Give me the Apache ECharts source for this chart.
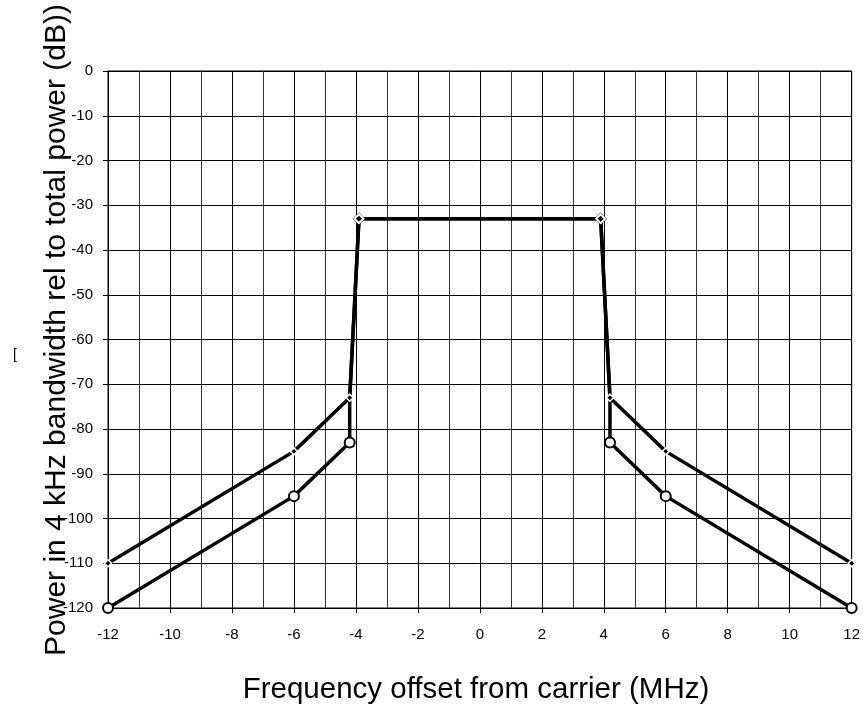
<!DOCTYPE html>
<html>
<head>
<meta charset="utf-8">
<script src="https://cdn.jsdelivr.net/npm/echarts@6/dist/echarts.min.js"></script>
<style>
html,body{margin:0;padding:0;background:#fff;}
#chart{width:863px;height:708px;}
</style>
</head>
<body>
<div id="chart"></div>
<script>
// Upper limit curve (small diamond markers)
var upperX = [-12, -6, -4.2, -3.9, 3.9, 4.2, 6, 12];
var upperY = [-110, -85, -73, -33, -33, -73, -85, -110];
// Lower limit curve (open circle markers)
var lowerX = [-12, -6, -4.2, -4.2, -3.9, 3.9, 4.2, 4.2, 6, 12];
var lowerY = [-120, -95, -83, -73, -33, -33, -73, -83, -95, -120];
// marker types per point
var upperMarker = ['small', 'small', 'small', 'top', 'top', 'small', 'small', 'small'];
var lowerMarker = ['circle', 'circle', 'circle', 'none', 'none', 'none', 'none', 'circle', 'circle', 'circle'];
var xTicks = [-12, -10, -8, -6, -4, -2, 0, 2, 4, 6, 8, 10, 12];
var yTicks = [0, -10, -20, -30, -40, -50, -60, -70, -80, -90, -100, -110, -120];

var FONT = "'Liberation Sans', Arial, sans-serif";

function upperData() {
  return upperX.map(function (x, i) {
    var t = upperMarker[i];
    if (t === 'top') {
      return { value: [x, upperY[i]], symbol: 'diamond', symbolSize: 9,
        itemStyle: { color: '#000', borderColor: '#fff', borderWidth: 2 } };
    }
    return { value: [x, upperY[i]], symbol: 'diamond', symbolSize: 7,
      itemStyle: { color: '#000', borderColor: '#fff', borderWidth: 1.5 } };
  });
}
function lowerData() {
  return lowerX.map(function (x, i) {
    if (lowerMarker[i] === 'circle') {
      return { value: [x, lowerY[i]], symbol: 'circle', symbolSize: 10,
        itemStyle: { color: '#fff', borderColor: '#000', borderWidth: 2 } };
    }
    return { value: [x, lowerY[i]], symbol: 'none' };
  });
}
var topPts = upperX.map(function (x, i) { return upperMarker[i] === 'top' ? [x, upperY[i]] : null; })
  .filter(function (d) { return d; });

var chart = echarts.init(document.getElementById('chart'), null, { renderer: 'canvas' });
chart.setOption({
  animation: false,
  backgroundColor: '#fff',
  grid: { left: 108, right: 11, top: 71, bottom: 100, show: true, borderColor: '#000', borderWidth: 1 },
  xAxis: {
    type: 'value', min: xTicks[0], max: xTicks[xTicks.length - 1], interval: 2,
    axisLine: { show: true, onZero: false, lineStyle: { color: '#000', width: 1 } },
    axisTick: { show: true, length: 5, lineStyle: { color: '#000' } },
    minorTick: { show: false, splitNumber: 2 },
    minorSplitLine: { show: true, lineStyle: { color: '#333', width: 1 } },
    splitLine: { show: true, lineStyle: { color: '#000', width: 1 } },
    axisLabel: { color: '#000', fontFamily: FONT, fontSize: 15, margin: 19 }
  },
  yAxis: {
    type: 'value', min: yTicks[yTicks.length - 1], max: yTicks[0], interval: 10,
    axisLine: { show: true, onZero: false, lineStyle: { color: '#000', width: 1 } },
    axisTick: { show: true, length: 5, lineStyle: { color: '#000' } },
    splitLine: { show: true, lineStyle: { color: '#000', width: 1 } },
    axisLabel: { color: '#000', fontFamily: FONT, fontSize: 15, margin: 15 }
  },
  graphic: [
    { type: 'text', x: 476, y: 690, style: { text: 'Frequency offset from carrier (MHz)', fontFamily: FONT, fontSize: 29.5, fill: '#000', align: 'center', verticalAlign: 'middle' } },
    { type: 'text', x: 57, y: 330, rotation: Math.PI / 2, style: { text: 'Power in 4 kHz bandwidth rel to total power (dB))', fontFamily: FONT, fontSize: 30, fill: '#000', align: 'center', verticalAlign: 'middle' } },
    { type: 'text', x: 15, y: 355, style: { text: '[', fontFamily: FONT, fontSize: 14, fill: '#000', align: 'center', verticalAlign: 'middle' } }
  ],
  series: [
    {
      type: 'line', data: lowerData(), z: 3,
      lineStyle: { color: '#000', width: 3.5 }, showAllSymbol: true
    },
    {
      type: 'scatter', data: topPts, z: 4, symbol: 'diamond', symbolSize: 13,
      itemStyle: { color: '#000' }
    },
    {
      type: 'line', data: upperData(), z: 5,
      lineStyle: { color: '#000', width: 3.5 }, showAllSymbol: true
    }
  ]
});
</script>
</body>
</html>
